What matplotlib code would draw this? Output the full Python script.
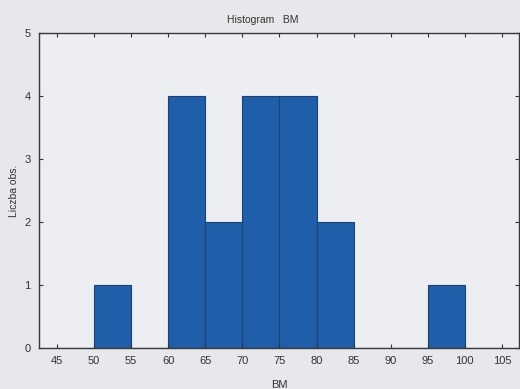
import matplotlib.pyplot as plt
import numpy as np

plt.rcParams['font.family'] = ['Liberation Sans', 'DejaVu Sans']

# granice przedzialow i liczebnosci
bin_edges = [45, 50, 55, 60, 65, 70, 75, 80, 85, 90, 95, 100, 105]
counts = [0, 1, 0, 4, 2, 4, 4, 2, 0, 0, 1, 0]
x_ticks = [45, 50, 55, 60, 65, 70, 75, 80, 85, 90, 95, 100, 105]
y_ticks = [0, 1, 2, 3, 4, 5]

bg = '#e7e8eb'
fig = plt.figure(figsize=(5.2, 3.89), dpi=100, facecolor=bg)
ax = fig.add_axes([0.075, 0.1054, 0.923, 0.8098])
ax.set_facecolor('#eceef1')

lefts = np.array(bin_edges[:-1])
widths = np.diff(bin_edges)
ax.bar(lefts, counts, width=widths, align='edge', color='#1f5fa9',
       edgecolor='#1a4272', linewidth=0.8)

ax.set_xlim(42.57, 107.3)
ax.set_ylim(0, 5)
ax.set_xticks(x_ticks)
ax.set_yticks(y_ticks)
ax.tick_params(direction='in', length=3, width=0.8, labelsize=8,
               top=True, right=True, colors='#333333', pad=6)
for s in ax.spines.values():
    s.set_color('#3a3a3a')
    s.set_linewidth(1.0)

ax.set_xlabel('BM', fontsize=8, color='#333333', labelpad=10)
ax.set_ylabel('Liczba obs.', fontsize=7.5, color='#333333', labelpad=4)
fig.text(0.505, 0.948, 'Histogram   BM', ha='center', va='center',
         fontsize=7.5, color='#333333')

fig.savefig('out.png', dpi=100, facecolor=bg)
